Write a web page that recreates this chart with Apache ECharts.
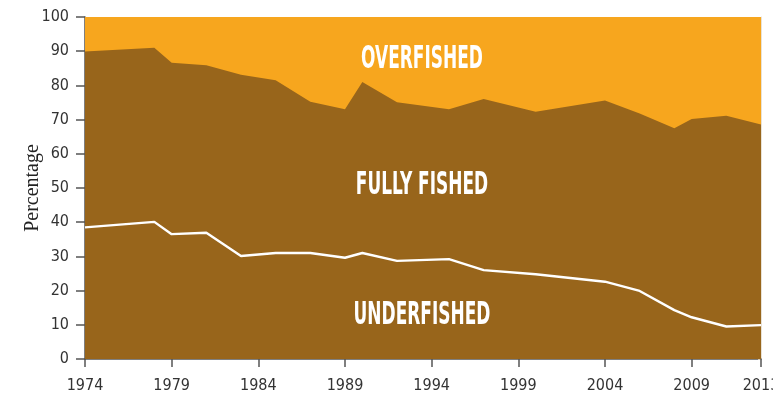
<!DOCTYPE html>
<html>
<head>
<meta charset="utf-8">
<script src="https://cdn.jsdelivr.net/npm/echarts@6/dist/echarts.min.js"></script>
<style>
  html, body { margin: 0; padding: 0; background: #fff; }
  #chart { width: 773px; height: 398px; }
</style>
</head>
<body>
<div id="chart"></div>
<script>
// Share of assessed fish stocks by exploitation status (percent)
const years = [1974, 1978, 1979, 1981, 1983, 1985, 1987, 1989, 1990, 1992, 1995, 1997, 2000, 2004, 2006, 2008, 2009, 2011, 2013];
const underfished = [38.5, 40.1, 36.5, 36.9, 30.1, 31.0, 31.0, 29.6, 31.0, 28.7, 29.2, 26.0, 24.8, 22.6, 19.9, 14.3, 12.2, 9.5, 9.9];
const fullyFished = [51.4, 50.9, 50.1, 49.0, 53.0, 50.5, 44.2, 43.4, 50.0, 46.4, 43.8, 50.0, 47.5, 53.0, 51.9, 53.2, 58.0, 61.6, 58.7];
const overfished = [10.1, 9.0, 13.4, 14.1, 16.9, 18.5, 24.8, 27.0, 19.0, 24.9, 27.0, 24.0, 27.7, 24.4, 28.2, 32.5, 29.8, 28.9, 31.4];
const xTickYears = [1974, 1979, 1984, 1989, 1994, 1999, 2004, 2009, 2013];

const ORANGE = '#F7A61E';
const BROWN = '#98651B';
const AXIS = '#555555';
const LABEL_FONT = '"Liberation Sans Narrow", "DejaVu Sans Condensed", "Roboto", sans-serif';

// Cumulative layers: each band is filled down to zero, upper bands drawn first
const cumUnder = years.map((y, i) => [y, underfished[i]]);
const cumFully = years.map((y, i) => [y, +(underfished[i] + fullyFished[i]).toFixed(2)]);
const cumOver = years.map((y, i) => [y, +(underfished[i] + fullyFished[i] + overfished[i]).toFixed(2)]);

const chart = echarts.init(document.getElementById('chart'), null, { renderer: 'canvas' });

chart.setOption({
  animation: false,
  backgroundColor: '#ffffff',
  grid: { left: 85, right: 12, top: 17, bottom: 39, containLabel: false, outerBoundsMode: 'none' },
  xAxis: {
    type: 'value',
    min: 1974,
    max: 2013,
    axisLine: { show: true, onZero: false, lineStyle: { color: AXIS, width: 1.5 } },
    axisTick: { show: true, length: 8, lineStyle: { color: AXIS, width: 1.5 }, customValues: xTickYears },
    axisLabel: {
      customValues: xTickYears,
      color: '#333',
      fontFamily: LABEL_FONT,
      fontSize: 16,
      margin: 19,
      formatter: v => String(v)
    },
    splitLine: { show: false }
  },
  yAxis: [{
    type: 'value',
    min: 0,
    max: 100,
    interval: 10,
    name: 'Percentage',
    nameLocation: 'middle',
    nameGap: 42,
    nameRotate: 90,
    nameMoveOverlap: false,
    nameTextStyle: { fontFamily: '"Liberation Serif", "DejaVu Serif", serif', fontSize: 20, color: '#222' },
    axisLine: { show: true, lineStyle: { color: AXIS, width: 1.5 } },
    axisTick: { show: true, length: 9, lineStyle: { color: AXIS, width: 1.5 } },
    axisLabel: { color: '#333', fontFamily: LABEL_FONT, fontSize: 16, margin: 16 },
    splitLine: { show: false }
  }, {
    type: 'value',
    position: 'right',
    min: 0,
    max: 100,
    interval: 10,
    axisLine: { show: true, lineStyle: { color: '#e8e2d6', width: 1 } },
    axisTick: { show: true, inside: true, length: 3, lineStyle: { color: '#d9cdb8', width: 1 } },
    axisLabel: { show: false },
    splitLine: { show: false }
  }],
  series: [
    {
      name: 'Overfished',
      type: 'line',
      data: cumOver,
      symbol: 'none',
      z: 1,
      lineStyle: { width: 0 },
      areaStyle: { color: ORANGE, opacity: 1, origin: 'start' }
    },
    {
      name: 'Fully fished',
      type: 'line',
      data: cumFully,
      symbol: 'none',
      z: 2,
      lineStyle: { width: 0 },
      areaStyle: { color: BROWN, opacity: 1, origin: 'start' }
    },
    {
      name: 'Underfished',
      type: 'line',
      data: cumUnder,
      symbol: 'none',
      z: 3,
      lineStyle: { color: '#ffffff', width: 2.4 },
      areaStyle: { color: BROWN, opacity: 1, origin: 'start' }
    }
  ],
  graphic: [
    { type: 'text', x: 422, y: 60, scaleX: 0.59, z: 10,
      style: { text: 'OVERFISHED', fill: '#fff', font: 'bold 32px ' + LABEL_FONT, textAlign: 'center', textVerticalAlign: 'middle' } },
    { type: 'text', x: 422, y: 186, scaleX: 0.59, z: 10,
      style: { text: 'FULLY FISHED', fill: '#fff', font: 'bold 32px ' + LABEL_FONT, textAlign: 'center', textVerticalAlign: 'middle' } },
    { type: 'text', x: 422, y: 316, scaleX: 0.59, z: 10,
      style: { text: 'UNDERFISHED', fill: '#fff', font: 'bold 32px ' + LABEL_FONT, textAlign: 'center', textVerticalAlign: 'middle' } }
  ]
});
</script>
</body>
</html>
